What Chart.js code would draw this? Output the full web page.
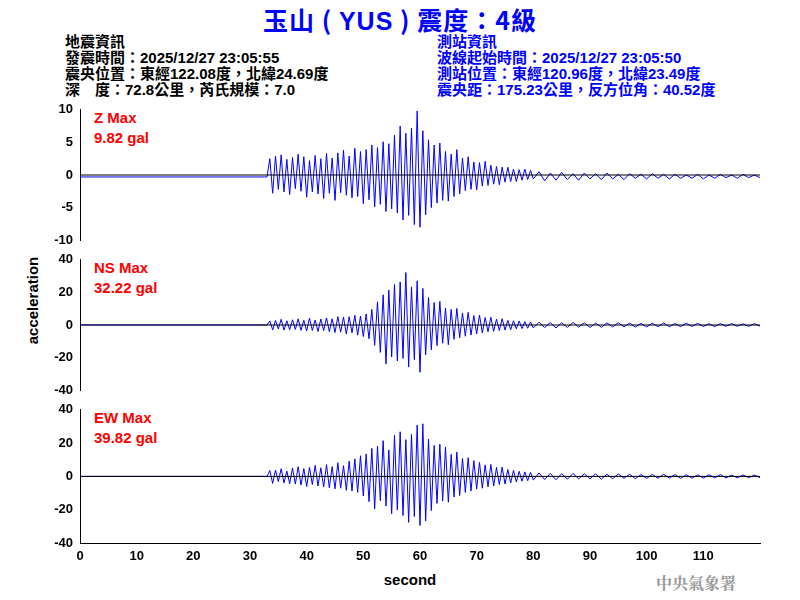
<!DOCTYPE html>
<html><head><meta charset="utf-8">
<script src="https://cdn.jsdelivr.net/npm/chart.js@4/dist/chart.umd.min.js"></script>
<style>
body{margin:0;width:800px;height:600px;background:#fff;position:relative;overflow:hidden;font-family:"Liberation Sans",Arial,sans-serif}
canvas{position:absolute;left:0}
.t{position:absolute;white-space:pre;font-weight:bold}
</style></head><body>
<div class="t" style="left:0;width:800px;text-align:center;top:1px;font-size:25px;letter-spacing:1px;color:#0000ff;font-family:'Noto Sans CJK TC','Liberation Sans'">玉山 ( <span style="font-family:'Liberation Sans'">YUS</span> ) 震度：4級</div>
<div class="t" style="left:65px;top:34px;font-size:15px;line-height:16px;color:#000;font-family:'Liberation Sans','Noto Sans CJK TC'">地震資訊
發震時間：2025/12/27 23:05:55
震央位置：東經122.08度，北緯24.69度
深　度：72.8公里，芮氏規模：7.0</div>
<div class="t" style="left:437px;top:34px;font-size:15px;line-height:16px;color:#0000ff;font-family:'Liberation Sans','Noto Sans CJK TC'">測站資訊
波線起始時間：2025/12/27 23:05:50
測站位置：東經120.96度，北緯23.49度
震央距：175.23公里，反方位角：40.52度</div>
<div class="t" style="left:-28px;top:292px;width:120px;text-align:center;font-size:15px;transform:rotate(-90deg)">acceleration</div>
<div class="t" style="left:0;width:800px;text-align:center;top:571px;font-size:15px;padding-left:20px;box-sizing:border-box">second</div>
<div class="t" style="left:656px;top:571px;font-size:16px;color:#999;font-family:'Noto Serif CJK TC','Noto Sans CJK TC'">中央氣象署</div>
<div class="t" style="left:94px;top:108px;font-size:15px;line-height:20px;color:#ff0000">Z Max
9.82 gal</div>
<div class="t" style="left:94px;top:258px;font-size:15px;line-height:20px;color:#ff0000">NS Max
32.22 gal</div>
<div class="t" style="left:94px;top:408px;font-size:15px;line-height:20px;color:#ff0000">EW Max
39.82 gal</div>
<canvas id="c1" width="800" height="150" style="top:100px"></canvas>
<canvas id="c2" width="800" height="150" style="top:250px"></canvas>
<canvas id="c3" width="800" height="170" style="top:400px"></canvas>
<script>
const eventStart=33, eventStep=0.5, tailStart=81, tailStep=1;
const xTicks=[0,10,20,30,40,50,60,70,80,90,100,110];
const zTicks=[-10,-5,0,5,10], hTicks=[-40,-20,0,20,40];
const zBase=-0.3, nsBase=0, ewBase=0;
const zEvent=[-0.3,2.5,-2.8,2.9,-2.2,3.1,-2.6,2.4,-3.0,2.7,
-2.1,3.2,-2.5,2.8,-3.4,2.2,-2.6,3.0,-2.9,2.5,
-3.6,3.3,-2.8,2.6,-3.9,3.4,-2.7,3.8,-3.1,2.9,
-3.5,4.1,-3.3,3.6,-4.4,3.9,-3.8,4.6,-4.9,4.2,
-4.5,5.1,-5.6,4.8,-5.2,6.1,-5.8,7.5,-6.9,6.4,
-6.2,7.2,-7.6,9.82,-8.0,6.8,-6.1,5.4,-5.0,4.6,
-4.3,4.9,-3.9,3.6,-4.0,3.2,-3.3,3.9,-2.9,2.6,
-2.4,2.8,-2.2,2.0,-2.3,1.9,-1.7,2.1,-1.6,1.5,
-1.4,1.3,-1.5,1.2,-1.1,1.2,-1.0,0.9,-1.0,0.8,
-0.8,0.9,-0.7,0.7,-0.6];
const zTail=[0.5,-0.9,0.3,-0.8,0.4,-0.7,0.2,-0.8,0.3,-0.6,0.2,-0.7,0.3,-0.6,0.1,-0.7,0.2,-0.5,0.1,-0.6,
0.2,-0.5,0.1,-0.6,0.1,-0.5,0.0,-0.5,0.1,-0.6,0.0,-0.5,0.1,-0.4,0.0,-0.5,0.1,-0.4,0.0,-0.4];
const nsEvent=[0,2.5,-3,2.8,-2.4,3.5,-3.1,2.6,-2.9,3.2,
-2.7,3.8,-3.3,2.9,-3.6,4.2,-3.4,3.1,-4.0,3.7,
-3.5,4.4,-4.1,3.8,-4.6,5.2,-4.4,4.9,-5.6,5.1,
-4.8,5.9,-6.2,5.5,-7.1,6.8,-8.5,9.6,-12.5,14.2,
-16.8,18.5,-24,21.5,-19.6,24.8,-22.1,26.4,-20.5,32.22,
-25.8,23.4,-21.2,27.1,-29,22.5,-18.4,16.9,-15.2,13.8,
-12.6,14.5,-11.2,10.4,-12.1,9.6,-8.8,10.2,-7.9,7.4,
-6.9,7.8,-6.2,5.8,-5.5,6.1,-4.9,4.6,-4.2,4.8,
-3.9,3.6,-3.4,3.9,-3.1,2.8,-2.9,2.6,-2.4,2.5,
-2.2,2.1,-2.0,1.9,-1.8];
const nsTail=[1.7,-1.6,1.5,-1.8,1.4,-1.5,1.6,-1.3,1.4,-1.5,1.2,-1.4,1.3,-1.2,1.4,-1.1,1.2,-1.3,1.0,-1.2,
1.1,-1.0,1.2,-1.1,0.9,-1.0,1.1,-0.9,1.0,-0.9,0.8,-1.0,0.9,-0.8,0.9,-0.8,0.7,-0.8,0.8,-0.7];
const ewEvent=[0,3.5,-4.2,3.8,-3.1,4.6,-3.9,3.2,-4.4,5.1,
-4.6,5.8,-5.2,4.7,-6.1,5.4,-4.9,6.6,-5.8,5.2,
-6.4,7.1,-6.8,5.9,-7.5,8.2,-7.1,6.5,-8.4,9.2,
-8.8,10.5,-9.6,12.4,-11.8,13.5,-15.2,16.8,-19.5,18.2,
-14.6,21.5,-17.8,15.9,-22.4,24.6,-20.1,26.8,-23.5,22.1,
-27.6,25.2,-24.1,30.8,-29.5,31.6,-26.8,22.4,-20.5,18.6,
-16.2,19.4,-14.8,17.6,-15.5,13.2,-12.4,14.6,-11.5,10.8,
-9.6,11.2,-8.8,9.5,-7.6,8.4,-7.1,6.9,-6.3,7.2,
-5.8,5.4,-4.9,5.6,-4.6,4.2,-3.9,3.6,-3.4,3.1,
-2.9,2.7,-2.6,2.4,-2.2];
const ewTail=[2.1,-1.9,1.8,-2.0,1.6,-1.7,1.8,-1.5,1.6,-1.4,1.5,-1.6,1.3,-1.4,1.5,-1.2,1.3,-1.4,1.1,-1.2,
1.2,-1.1,1.3,-1.0,1.1,-1.2,1.0,-1.1,0.9,-1.0,1.0,-0.9,1.1,-0.9,0.8,-0.9,0.9,-0.8,0.8,-0.7];

function build(base,ev,tail){
  const p=[{x:0,y:base},{x:eventStart-0.5,y:base}];
  ev.forEach((v,i)=>p.push({x:eventStart+i*eventStep,y:v}));
  tail.forEach((v,i)=>p.push({x:tailStart+i*tailStep,y:v}));
  return p;
}
const font={family:"'Liberation Sans',Arial",size:13,weight:'bold'};
function make(id,data,ticks,showX){
  const lim=ticks[ticks.length-1];
  new Chart(document.getElementById(id),{
    type:'line',
    data:{datasets:[
      {data:[{x:0,y:0},{x:120,y:0}],borderColor:'#000',borderWidth:1,pointRadius:0},
      {data:data,borderColor:'#0000ff',borderWidth:1,pointRadius:0,tension:0}
    ]},
    options:{responsive:false,animation:false,events:[],
      layout:{padding:{left:0,right:40,top:8,bottom:showX?0:7}},
      plugins:{legend:{display:false},tooltip:{enabled:false}},
      scales:{
        x:{type:'linear',min:0,max:120,display:showX,
          afterBuildTicks:s=>{s.ticks=xTicks.map(v=>({value:v}));},
          afterFit:s=>{if(showX)s.height=27;else s.height=0;},
          grid:{display:false,drawTicks:true,tickLength:5,tickColor:'#000'},
          border:{color:'#000',width:1},
          ticks:{color:'#000',font:font,padding:1,maxRotation:0,autoSkip:false}},
        y:{min:-lim,max:lim,
          afterBuildTicks:s=>{s.ticks=ticks.map(v=>({value:v}));},
          afterFit:s=>{s.width=80;},
          grid:{display:false,drawTicks:true,tickLength:5,tickColor:'#000'},
          border:{color:'#000',width:1},
          ticks:{color:'#000',font:font,padding:2,autoSkip:false}}
      }}
  });
}
make('c1',build(zBase,zEvent,zTail),zTicks,false);
make('c2',build(nsBase,nsEvent,nsTail),hTicks,false);
make('c3',build(ewBase,ewEvent,ewTail),hTicks,true);
</script></body></html>
